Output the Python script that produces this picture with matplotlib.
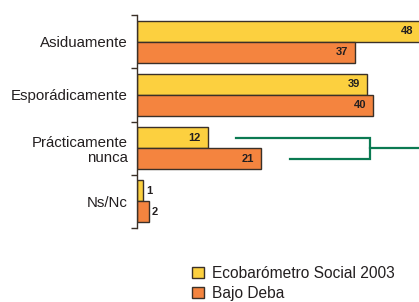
import numpy as np
import matplotlib
matplotlib.use("Agg")
import matplotlib.pyplot as plt
from matplotlib.patches import Patch

# --- data ---
categories = ["Asiduamente", "Esporádicamente", "Prácticamente\nnunca", "Ns/Nc"]
ecobarometro = [48, 39, 12, 1]
bajo_deba = [37, 40, 21, 2]
series_names = ["Ecobarómetro Social 2003", "Bajo Deba"]

yellow = "#FCD03F"
orange = "#F4843F"
edge = "#3a3028"
green = "#0B7A52"
text_col = "#231f20"

plt.rcParams.update({
    "font.family": ["Liberation Sans", "DejaVu Sans"],
    "font.size": 10.8,
    "text.color": text_col,
})

fig = plt.figure(figsize=(4.19, 3.02), dpi=100)
ax = fig.add_axes([137 / 419, (302 - 228) / 302, 1 - 137 / 419, 213 / 302])

y = np.arange(len(categories))
h = 0.394
ax.barh(y - h / 2, ecobarometro, height=h, color=yellow, edgecolor=edge, linewidth=1.0)
ax.barh(y + h / 2, bajo_deba, height=h, color=orange, edgecolor=edge, linewidth=1.0)

ax.set_xlim(0, 47.8)
ax.set_ylim(len(categories) - 0.5, -0.5)

# value labels
lab_font = dict(fontsize=8, fontweight="bold", color=text_col)
for vals, off in ((ecobarometro, -h / 2), (bajo_deba, h / 2)):
    for i, v in enumerate(vals):
        if v < 5:
            ax.text(v + 0.5, i + off, str(v), ha="left", va="center", **lab_font)
        else:
            ax.text(v - 1.2, i + off, str(v), ha="right", va="center", clip_on=False, **lab_font)

# bracket annotation next to "Prácticamente nunca"
i = 2
y_top, y_bot = i - h / 2, i + h / 2
ax.plot([16.8, 39.5, 39.5, 25.9], [y_top, y_top, y_bot, y_bot],
        color=green, lw=1.6, solid_joinstyle="miter", clip_on=False)
ax.plot([39.5, 48], [i, i], color=green, lw=1.6, clip_on=False)

# axes styling
for s in ("top", "right", "bottom"):
    ax.spines[s].set_visible(False)
ax.spines["left"].set_color(edge)
ax.spines["left"].set_linewidth(1.0)
ax.set_xticks([])
ax.set_yticks(np.arange(len(categories) + 1) - 0.5)
ax.set_yticklabels([])
ax.tick_params(axis="y", which="major", length=4.5, width=1.0, color=edge, direction="out")
ax.set_yticks(y, minor=True)
ax.set_yticklabels(categories, minor=True, linespacing=1.1)
ax.tick_params(axis="y", which="minor", length=0, pad=6.5, labelsize=10.8, labelcolor=text_col)

handles = [Patch(facecolor=yellow, edgecolor=edge, linewidth=1.0),
           Patch(facecolor=orange, edgecolor=edge, linewidth=1.0)]
fig.legend(handles, series_names, loc="upper left", bbox_to_anchor=(192 / 419, 1 - 266 / 302),
           frameon=False, borderpad=0, borderaxespad=0, handlelength=0.75, handleheight=0.75,
           handletextpad=0.55, labelspacing=0.3, fontsize=11.2)

fig.savefig("out.png", dpi=100)
